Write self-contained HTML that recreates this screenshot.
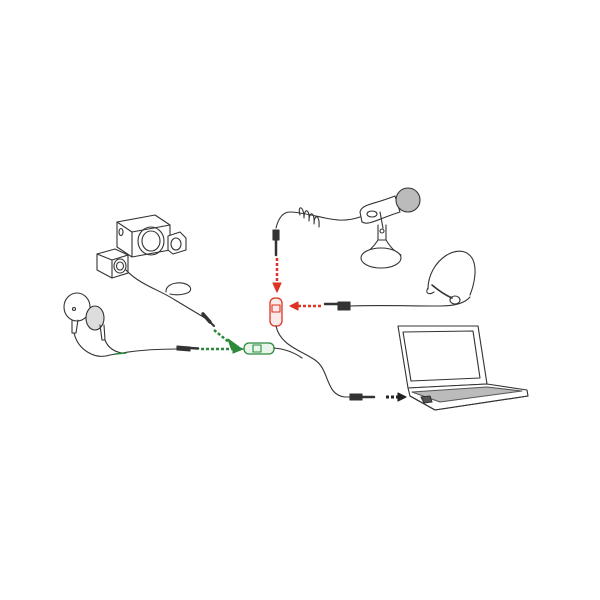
<!DOCTYPE html>
<html><head><style>html,body{margin:0;background:#fff}svg{display:block}</style></head><body>
<svg width="600" height="600" viewBox="0 0 600 600" xmlns="http://www.w3.org/2000/svg" fill="none" stroke="#333" stroke-width="1.1" stroke-linejoin="round" stroke-linecap="round">
<rect width="600" height="600" fill="#fff" stroke="none"/>
<!-- Speakers -->
<g>
<path d="M117 222 L155 215 L170 225 L170 250 L132 257 L117 247 Z" fill="#fff"/>
<path d="M117 222 L132 232 L170 225 M132 232 L132 257"/>
<ellipse cx="151" cy="241" rx="13" ry="14"/><ellipse cx="151" cy="241" rx="9" ry="10"/>
<ellipse cx="121" cy="232" rx="2" ry="3.5"/>
<path d="M168 236 L180 232 L186 238 L186 250 L173 254 L168 250 Z" fill="#fff"/>
<ellipse cx="176" cy="244" rx="5" ry="6"/>
<path d="M97 254 L115 249 L128 255 L128 273 L112 278 L97 270 Z" fill="#fff"/>
<path d="M97 254 L112 260 L128 255 M112 260 L112 278"/>
<ellipse cx="120" cy="266" rx="6" ry="7"/><ellipse cx="120" cy="266" rx="3.5" ry="4"/>
<path d="M126 270 C140 285,160 290,175 300 C185 306,195 312,205 318"/>
<path d="M166 292 C165 282,185 280,190 287 C194 294,178 296,170 294"/>
</g>
<!-- Earbuds -->
<g>
<ellipse cx="77" cy="307" rx="13" ry="14"/>
<circle cx="74" cy="309" r="1.5"/>
<path d="M72 320 L72 333 L76 333 L78 320"/>
<ellipse cx="95" cy="318" rx="9" ry="12" fill="#ddd"/>
<path d="M100 325 L102 340 L105 340 L104 325"/>
<path d="M74 333 C78 350,95 360,110 355 L122 353 C140 350,160 349,177 349"/>
<path d="M105 340 C108 348,115 352,122 353" />
<path d="M115 354 L126 353" stroke="#2a8a3a" stroke-width="1.6"/>
</g>
<!-- Green plugs -->
<path d="M177 346 L190 347 L190 351 L177 350 Z" fill="#333"/>
<path d="M190 348 L198 348.5" stroke="#333" stroke-width="2.5"/>
<path d="M203 314 L210 322" stroke="#333" stroke-width="3.5"/>
<path d="M210 322 L214 326" stroke="#333" stroke-width="2"/>
<g stroke="#2a8a3a" stroke-width="2.5" stroke-dasharray="3 2" stroke-linecap="butt">
<path d="M201 349 L233 349"/>
<path d="M214 330 L230 343"/>
</g>
<path d="M233 345 L243 349 L233 353 Z" fill="#2a8a3a" stroke="#2a8a3a"/>
<path d="M228 339 L239 347 L231 348 Z" fill="#2a8a3a" stroke="#2a8a3a"/>
<!-- Green splitter -->
<rect x="244" y="343" width="30" height="11" rx="5" stroke="#2a8a3a" stroke-width="1.3" fill="#e8f5ea"/>
<rect x="253" y="345" width="8" height="7" stroke="#2a8a3a"/>
<path d="M274 348 C285 349,295 353,302 358"/>
<!-- Microphone -->
<g>
<path d="M378 225 L378 240 L386 240 L386 225" fill="#fff"/>
<circle cx="382" cy="231" r="2"/>
<path d="M378 240 C373 248,368 252,362 255 M386 240 C391 248,395 252,401 255"/>
<ellipse cx="381" cy="258" rx="20" ry="10" fill="#fff"/>
<path d="M360 212 C362 204,372 205,395 196 L400 212 C378 219,368 226,362 222 Z" fill="#fff"/>
<ellipse cx="372" cy="214" rx="5" ry="3"/>
<path d="M380 212 L383 228" />
<circle cx="408" cy="200" r="12" fill="#bbb"/>
<path d="M360 217 C345 222,335 220,325 218 C315 216,300 212,290 212 C282 212,278 220,276 228"/>
<path d="M300 215 c-3 -10 4 -10 4 3 c0 -10 6 -10 5 3 c0 -10 6 -10 5 3 c0 -10 6 -10 5 3"/>
</g>
<path d="M273 230 L279 230 L279 240 L273 240 Z" fill="#333"/>
<path d="M276 240 L276 255" stroke="#333" stroke-width="2.5"/>
<!-- Red arrows -->
<g stroke="#d32" stroke-width="2.5" stroke-dasharray="3 2" stroke-linecap="butt">
<path d="M277 258 L277 282"/>
<path d="M298 306 L322 306"/>
</g>
<path d="M273 283 L281 283 L277 292 Z" fill="#d32" stroke="#d32"/>
<path d="M298 302 L298 310 L290 306 Z" fill="#d32" stroke="#d32"/>
<!-- Headset -->
<path d="M325 304 L338 304" stroke="#333" stroke-width="2.5"/>
<path d="M338 302 L350 302 L350 310 L338 310 Z" fill="#333"/>
<path d="M350 306 C380 305,410 306,440 306 C455 306,465 303,470 297"/>
<path d="M428 289 C428 260,460 240,472 258 C478 268,474 285,470 295"/>
<path d="M432 285 C438 290,445 295,452 298" stroke-width="1.6"/>
<ellipse cx="455" cy="300" rx="5" ry="4"/>
<path d="M428 288 C425 292,428 296,434 292"/>
<!-- Red splitter -->
<rect x="270" y="298" width="12" height="28" rx="5" stroke="#d32" stroke-width="1.3" fill="#fbeaea"/>
<rect x="272" y="305" width="8" height="7" stroke="#d32"/>
<path d="M276 326 C280 345,300 350,315 360 C330 370,325 395,345 397 L350 397"/>
<!-- Laptop plug -->
<path d="M350 394 L362 394 L362 400 L350 400 Z" fill="#333"/>
<path d="M362 397 L374 397" stroke="#333" stroke-width="2.5"/>
<path d="M386 397 L398 397" stroke="#222" stroke-width="3" stroke-dasharray="3 2" stroke-linecap="butt"/>
<path d="M398 393 L406 397 L398 401 Z" fill="#222" stroke="#222"/>
<!-- Laptop -->
<g>
<path d="M398 326 L478 326 L487 384 L408 388 Z" fill="#fff"/>
<path d="M403 332 L473 331 L480 378 L411 381 Z"/>
<path d="M408 388 L487 384 L527 390 L528 396 L435 410 L410 396 Z" fill="#fff"/>
<path d="M412 392 L487 387 L522 391 L440 402 Z" fill="#bbb" stroke="#555"/>
<path d="M410 396 L435 410 L528 396"/>
<path d="M421 397 L430 396 L432 402 L424 403 Z" fill="#555"/>
</g>
</svg>
</body></html>
